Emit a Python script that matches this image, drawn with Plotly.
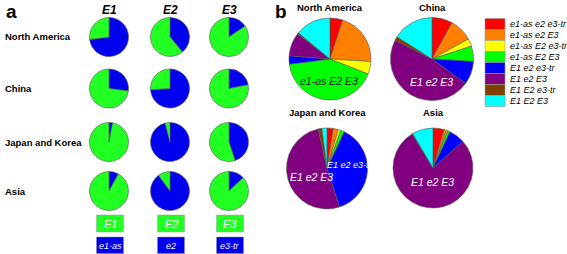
import plotly.graph_objects as go

W, H = 567, 254
FONT = "Arial, Liberation Sans, sans-serif"

# ---------------- Data ----------------
regions = ["North America", "China", "Japan and Korea", "Asia"]
loci = ["E1", "E2", "E3"]
recessive = ["e1-as", "e2", "e3-tr"]
# panel a: % recessive (blue) allele per region (rows) and locus (cols)
recessive_pct = [
    [73, 39, 15.5],
    [27, 74, 22],
    [3, 96, 45],
    [8, 90, 13],
]

haplotypes = ["e1-as e2 e3-tr", "e1-as e2 E3", "e1-as E2 e3-tr", "e1-as E2 E3",
              "E1 e2 e3-tr", "E1 e2 E3", "E1 E2 e3-tr", "E1 E2 E3"]
hap_colors = ["#FF0000", "#FF8000", "#FFFF00", "#00FF00",
              "#0000FF", "#800080", "#804000", "#00FFFF"]
hap_pct = {
    "North America": [5, 21, 5, 42, 3.3, 9.2, 0.5, 14],
    "China": [8, 9, 3, 6, 9, 47.5, 1.5, 16],
    "Japan and Korea": [2.5, 2, 1, 1.5, 38, 51.5, 1.5, 2],
    "Asia": [4.5, 1, 0.5, 1, 6.5, 78, 0.3, 8.5],
}
# labels printed inside panel b pies: (region, haplotype)
inner_labels = [("North America", "e1-as E2 E3"), ("China", "E1 e2 E3"),
                ("Japan and Korea", "E1 e2 E3"), ("Japan and Korea", "E1 e2 e3-tr"),
                ("Asia", "E1 e2 E3")]

# ---------------- Layout helpers ----------------
def dom(cx, cy, r):
    return dict(x=[(cx - r) / W, (cx + r) / W], y=[1 - (cy + r) / H, 1 - (cy - r) / H])

fig = go.Figure()
annots = []
shapes = []

def txt(x, y, s, size, color="black", bold=False, italic=False, xanchor="center"):
    if bold:
        s = f"<b>{s}</b>"
    if italic:
        s = f"<i>{s}</i>"
    annots.append(dict(x=x / W, y=1 - y / H, xref="paper", yref="paper", text=s,
                       showarrow=False, xanchor=xanchor, yanchor="middle",
                       font=dict(family=FONT, size=size, color=color)))

GREEN_A = "#22FF22"
BLUE_A = "#0000EE"
LINE = "#555555"

# ---------------- Panel a ----------------
col_x = [109, 170, 229]
row_y = [37, 88.5, 142, 191]
r_small = 19.5
txt(11, 11, "a", 19, bold=True)
for j, lc in enumerate(loci):
    txt(col_x[j], 10, lc, 12, bold=True, italic=True)
for i, reg in enumerate(regions):
    txt(3, row_y[i], reg, 9.5, bold=True, xanchor="left")
    for j in range(3):
        b = recessive_pct[i][j]
        fig.add_trace(go.Pie(values=[b, 100 - b], labels=[recessive[j], loci[j]],
                             marker=dict(colors=[BLUE_A, GREEN_A], line=dict(color=LINE, width=0.6)),
                             sort=False, direction="clockwise", rotation=0,
                             textinfo="none", hoverinfo="label+percent",
                             domain=dom(col_x[j], row_y[i], r_small), showlegend=False))
# allele key boxes
for j in range(3):
    cx = col_x[j] + 1
    shapes.append(dict(type="rect", xref="paper", yref="paper",
                       x0=(cx - 13.5) / W, x1=(cx + 13.5) / W,
                       y0=1 - 232 / H, y1=1 - 215 / H,
                       fillcolor=GREEN_A, line=dict(color="#88AA88", width=0.5)))
    txt(cx, 224, loci[j], 11, color="white", italic=True)
    shapes.append(dict(type="rect", xref="paper", yref="paper",
                       x0=(cx - 13.5) / W, x1=(cx + 13.5) / W,
                       y0=1 - 253.5 / H, y1=1 - 237 / H,
                       fillcolor=BLUE_A, line=dict(color="#8888AA", width=0.5)))
    txt(cx, 245.5, recessive[j], 9, color="white", italic=True)

# ---------------- Panel b ----------------
txt(281, 11, "b", 19, bold=True)
big = {"North America": (330, 59, 41), "China": (432, 59, 41.5),
       "Japan and Korea": (327, 168.5, 40.5), "Asia": (433, 168, 40)}
title_y = {"North America": 8, "China": 8, "Japan and Korea": 112, "Asia": 112}
for reg in regions:
    cx, cy, r = big[reg]
    fig.add_trace(go.Pie(values=hap_pct[reg], labels=haplotypes,
                         marker=dict(colors=hap_colors, line=dict(color=LINE, width=0.6)),
                         sort=False, direction="clockwise", rotation=0,
                         textinfo="none", hoverinfo="label+percent",
                         domain=dom(cx, cy, r), showlegend=False))
    txt(cx, title_y[reg], reg, 9.5, bold=True)

label_pos = {("North America", "e1-as E2 E3"): (329, 81, "#1a1a1a", 10.5),
             ("China", "E1 e2 E3"): (431, 82, "white", 10.5),
             ("Japan and Korea", "E1 e2 E3"): (311, 177, "white", 10.5),
             ("Japan and Korea", "E1 e2 e3-tr"): (350, 165, "white", 9),
             ("Asia", "E1 e2 E3"): (432, 182, "white", 10.5)}
for key in inner_labels:
    x, y, c, s = label_pos[key]
    txt(x, y, key[1], s, color=c, italic=True)

# legend
lx0, lx1, ly0, rh = 485, 505, 18.5, 11
for k, (h, c) in enumerate(zip(haplotypes, hap_colors)):
    y0 = ly0 + k * rh
    shapes.append(dict(type="rect", xref="paper", yref="paper",
                       x0=lx0 / W, x1=lx1 / W, y0=1 - (y0 + rh) / H, y1=1 - y0 / H,
                       fillcolor=c, line=dict(color="#999999", width=0.6)))
    txt(507.5, y0 + rh / 2, h, 9, italic=True, xanchor="left")

fig.update_layout(width=W, height=H, margin=dict(l=0, r=0, t=0, b=0),
                  paper_bgcolor="white", plot_bgcolor="white",
                  annotations=annots, shapes=shapes, showlegend=False)
fig.write_html("out.html", config={"displayModeBar": False},
               post_script="document.body.style.margin='0';")
